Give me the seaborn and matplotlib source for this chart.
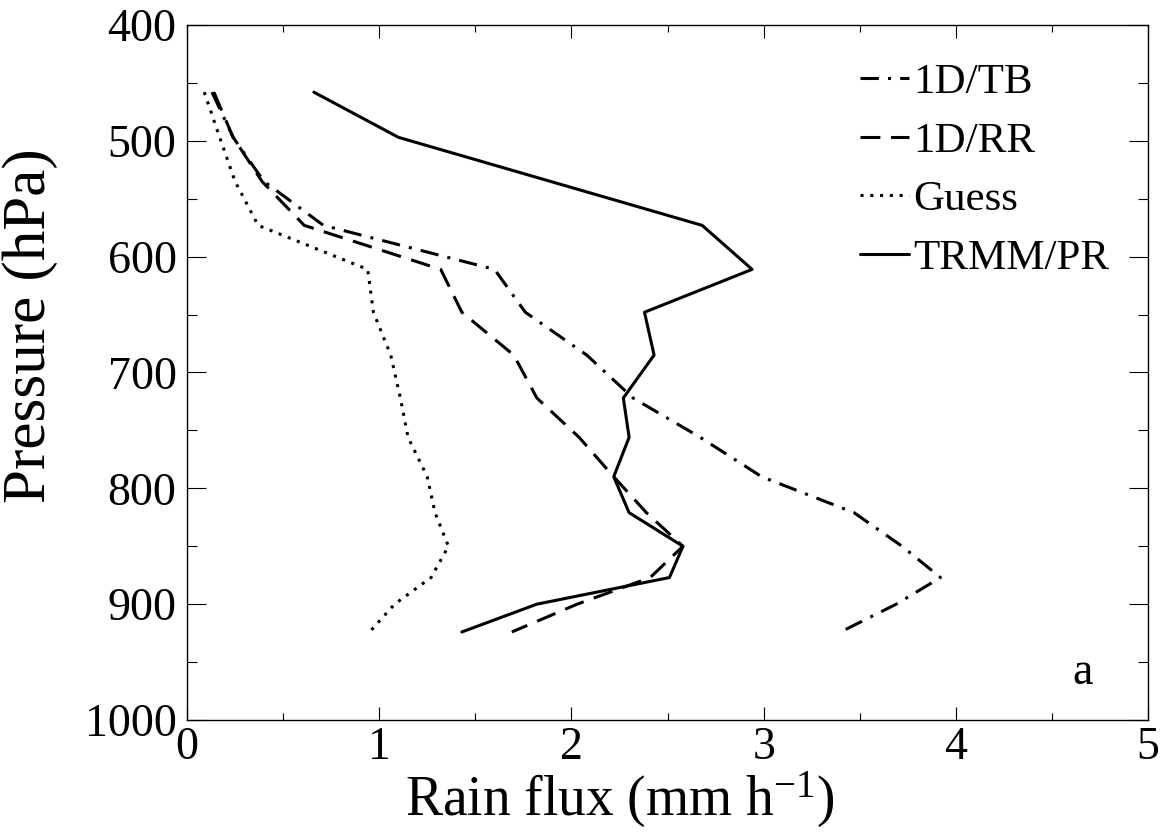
"""
Rain flux profiles: retrievals vs guess vs TRMM/PR.
"""
import matplotlib
matplotlib.use("Agg")
import matplotlib.pyplot as plt
import numpy as np
import pandas as pd
import seaborn as sns
from matplotlib.ticker import MultipleLocator

# pressure levels (hPa)
pressure = [458, 497, 535, 573, 611, 648, 685, 722, 756, 790, 821, 850, 877, 900, 924]
pressure_pr = [458, 497, 573, 611, 648, 685, 722, 756, 790, 821, 850, 877, 900, 924]

# rain flux (mm/h)
flux_tb = [0.13, 0.24, 0.40, 0.71, 1.60, 1.76, 2.08, 2.32, 2.67, 2.99, 3.47, 3.72, 3.92, 3.69, 3.40]
flux_rr = [0.14, 0.24, 0.39, 0.61, 1.32, 1.43, 1.70, 1.82, 2.04, 2.22, 2.39, 2.58, 2.41, 2.03, 1.69]
flux_guess = [0.09, 0.17, 0.25, 0.37, 0.94, 0.97, 1.06, 1.11, 1.15, 1.25, 1.29, 1.36, 1.27, 1.08, 0.95]
flux_pr = [0.66, 1.10, 2.68, 2.94, 2.38, 2.43, 2.27, 2.30, 2.22, 2.30, 2.58, 2.51, 1.82, 1.43]

series_order = ["1D/TB", "1D/RR", "Guess", "TRMM/PR"]

rows = []
for name, p, f in [("1D/TB", pressure, flux_tb), ("1D/RR", pressure, flux_rr),
                   ("Guess", pressure, flux_guess), ("TRMM/PR", pressure_pr, flux_pr)]:
    for pi, fi in zip(p, f):
        rows.append({"series": name, "pressure": pi, "flux": fi})
df = pd.DataFrame(rows)

sns.set_theme(style="ticks")
plt.rcParams["font.family"] = ["Liberation Serif", "DejaVu Serif"]
plt.rcParams["mathtext.fontset"] = "custom"
plt.rcParams["mathtext.rm"] = "Liberation Serif"
plt.rcParams["mathtext.it"] = "Liberation Serif:italic"
plt.rcParams["text.color"] = "black"
plt.rcParams["axes.labelcolor"] = "black"

fs_tick = 33
fs_leg = 31

fig = plt.figure(figsize=(11.65, 8.32), dpi=100)
ax = fig.add_axes([0.1605, 0.1346, 0.825, 0.8354])

dashes = {"1D/TB": (6, 3, 1, 3), "1D/RR": (6.5, 3.5), "Guess": (1, 2.2), "TRMM/PR": ""}
sns.lineplot(data=df, x="flux", y="pressure", style="series", style_order=series_order,
             dashes=dashes, sort=False, estimator=None, color="black",
             linewidth=2.2, legend=False, ax=ax)

ax.set_xlim(0, 5)
ax.set_ylim(1000, 400)
ax.xaxis.set_major_locator(MultipleLocator(1))
ax.xaxis.set_minor_locator(MultipleLocator(0.5))
ax.yaxis.set_major_locator(MultipleLocator(100))
ax.yaxis.set_minor_locator(MultipleLocator(50))
ax.tick_params(axis="both", which="both", direction="in", top=True, right=True,
               width=0.8, color="black", labelsize=fs_tick, labelcolor="black")
ax.tick_params(axis="x", which="major", length=9.5, pad=5)
ax.tick_params(axis="x", which="minor", length=5)
ax.tick_params(axis="y", which="major", length=13.5, pad=7.5)
ax.tick_params(axis="y", which="minor", length=7)
for sp in ax.spines.values():
    sp.set_linewidth(1.0)
    sp.set_color("black")

ax.set_xlabel("Rain flux (mm h$^{-1}$)", fontsize=40, va="center", color="black")
ax.set_ylabel("Pressure (hPa)", fontsize=44, va="center", color="black")
ax.xaxis.set_label_coords(0.45, -0.115)
ax.yaxis.set_label_coords(-0.163, 0.568)

leg = ax.legend(ax.lines, series_order, loc="upper left", bbox_to_anchor=(0.70, 0.945),
                frameon=False, fontsize=fs_leg, handlelength=1.15, handletextpad=0.1,
                labelspacing=0.45, borderpad=0, borderaxespad=0)
for t in leg.get_texts():
    t.set_color("black")

ax.text(0.932, 0.068, "a", transform=ax.transAxes, fontsize=fs_tick,
        ha="center", va="center", color="black")

fig.savefig("out.png", dpi=100)
